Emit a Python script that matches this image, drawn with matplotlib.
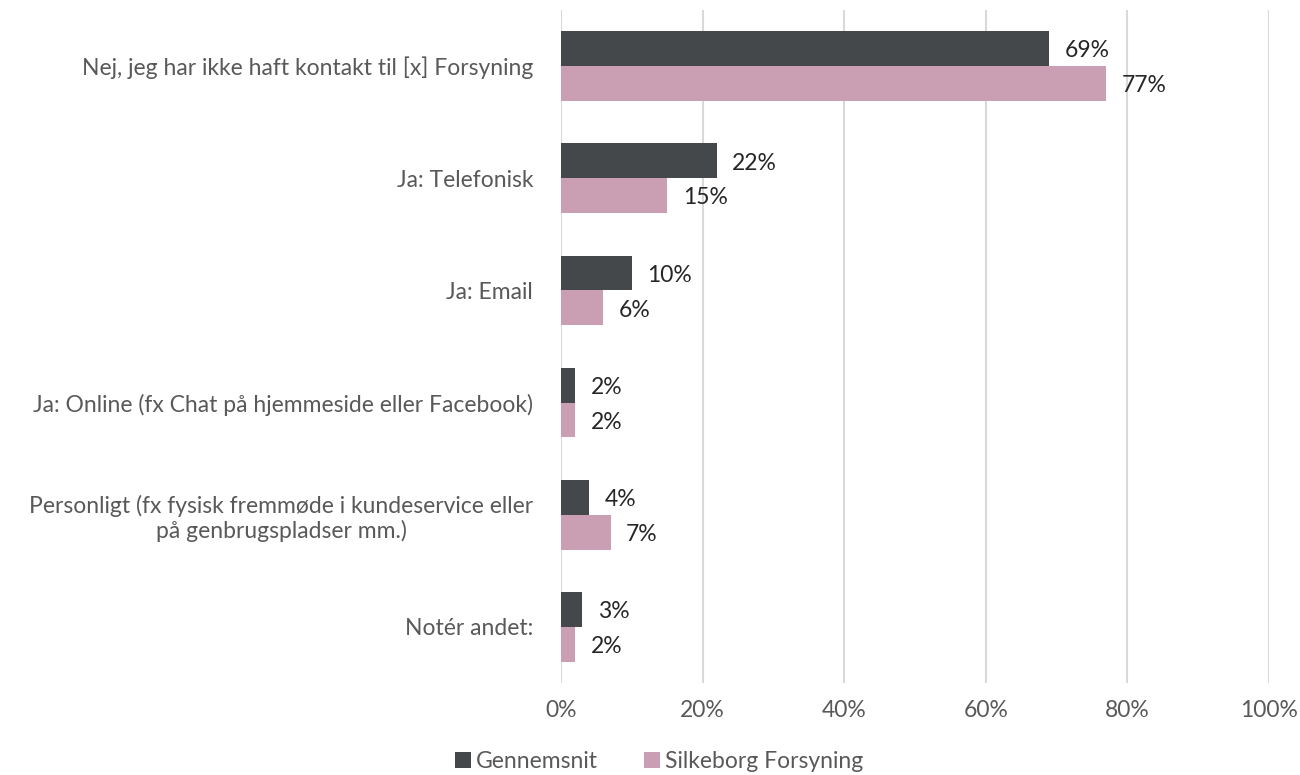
import matplotlib.pyplot as plt
import numpy as np

categories = [
    "Nej, jeg har ikke haft kontakt til [x] Forsyning",
    "Ja: Telefonisk",
    "Ja: Email",
    "Ja: Online (fx Chat på hjemmeside eller Facebook)",
    "Personligt (fx fysisk fremmøde i kundeservice eller\npå genbrugspladser mm.)",
    "Notér andet:",
]
gennemsnit = [69, 22, 10, 2, 4, 3]
silkeborg = [77, 15, 6, 2, 7, 2]
series_names = ["Gennemsnit", "Silkeborg Forsyning"]
xticks = [0, 20, 40, 60, 80, 100]

plt.rcParams['font.family'] = ['Lato', 'DejaVu Sans']

fig = plt.figure(figsize=(13, 7.75), dpi=100)
ax = fig.add_axes([0.4315, 0.1187, 0.5446, 0.8684])

y = np.arange(len(categories))
h = 0.31
b1 = ax.barh(y - h / 2, gennemsnit, height=h, color='#44484b', label=series_names[0], zorder=3)
b2 = ax.barh(y + h / 2, silkeborg, height=h, color='#cb9fb3', label=series_names[1], zorder=3)

# value labels next to each bar
for bars, vals in [(b1, gennemsnit), (b2, silkeborg)]:
    for bar, v in zip(bars, vals):
        ax.text(v + 2.2, bar.get_y() + bar.get_height() / 2 + 0.02, f"{v}%",
                va='center', ha='left', fontsize=16.5, color='#262626')

ax.set_ylim(len(categories) - 0.5, -0.5)
ax.set_xlim(0, 100)
ax.set_yticks(y)
ax.set_yticklabels(categories, fontsize=16.5, color='#595959', ha='right', multialignment='center')
ax.tick_params(axis='y', length=0, pad=20)
ax.set_xticks(xticks)
ax.set_xticklabels([f"{t}%" for t in xticks], fontsize=16.5, color='#595959')
ax.tick_params(axis='x', length=0, pad=12)
ax.grid(axis='x', color='#d9d9d9', linewidth=1.5, zorder=0)
for s in ax.spines.values():
    s.set_visible(False)

fig.legend(handles=[b1, b2], loc='center', bbox_to_anchor=(0.507, 0.017), ncol=2,
           frameon=False, fontsize=16.5, labelcolor='#595959', handlelength=0.7,
           handleheight=0.7, handletextpad=0.2, columnspacing=2.0)

fig.savefig('out.png', dpi=100)
